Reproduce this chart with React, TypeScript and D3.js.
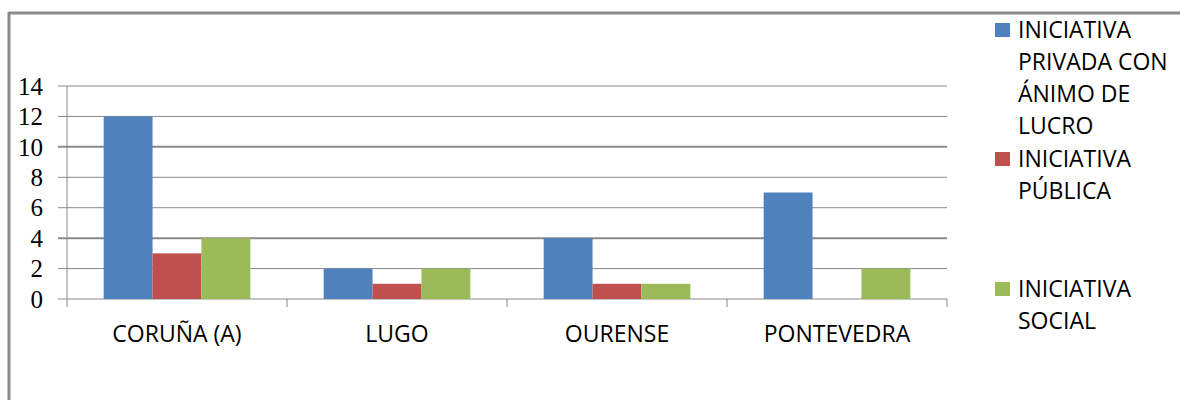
import React from "react";
import * as d3 from "d3";

const provincias = ["CORUÑA (A)", "LUGO", "OURENSE", "PONTEVEDRA"];
const privadaLucro = [12, 2, 4, 7];
const publica = [3, 1, 1, 0];
const social = [4, 2, 1, 2];
const yTicks = [0, 2, 4, 6, 8, 10, 12, 14];

const series = [
  { key: "privada", values: privadaLucro, color: "#4F81BD", legend: ["INICIATIVA", "PRIVADA CON", "ÁNIMO DE", "LUCRO"] },
  { key: "publica", values: publica, color: "#C0504D", legend: ["INICIATIVA", "PÚBLICA"] },
  { key: "social", values: social, color: "#9BBB59", legend: ["INICIATIVA", "SOCIAL"] },
];

const W = 1180;
const H = 400;
const plot = { left: 67, right: 947, top: 86, bottom: 299 };
const gridColor = "#8a8a8a";
const sans = "'Open Sans', 'DejaVu Sans', sans-serif";

const App = () => {
  const x = d3
    .scaleBand<string>()
    .domain(provincias)
    .range([plot.left, plot.right])
    .paddingInner(0)
    .paddingOuter(0);

  const inner = d3
    .scaleBand<string>()
    .domain(series.map((s) => s.key))
    .range([0, x.bandwidth()])
    .paddingInner(0)
    .paddingOuter(0.75);

  const y = d3.scaleLinear().domain([0, 14]).range([plot.bottom, plot.top]);

  // legend rows, one per line of text
  const legendTops = [38, 167, 297];
  const lineGap = 32;

  return (
    <svg
      width={W}
      height={H}
      viewBox={`0 0 ${W} ${H}`}
      style={{ position: "absolute", left: 0, top: 0, background: "#fff" }}
    >
      {/* outer frame */}
      <line x1={9} x2={W} y1={13} y2={13} stroke={gridColor} strokeWidth={3} />
      <line x1={9} x2={9} y1={12} y2={H} stroke={gridColor} strokeWidth={3} />

      {/* gridlines + y labels */}
      {yTicks.map((t) => (
        <g key={t}>
          <line
            x1={plot.left - 9}
            x2={plot.right}
            y1={y(t)}
            y2={y(t)}
            stroke={gridColor}
            strokeWidth={t === 4 || t === 10 ? 2 : 1}
          />
          <text
            x={43}
            y={y(t)}
            dy="0.35em"
            textAnchor="end"
            fontFamily="'Liberation Serif', serif"
            fontSize={25}
            fill="#000"
          >
            {t}
          </text>
        </g>
      ))}

      {/* y axis */}
      <line x1={plot.left} x2={plot.left} y1={plot.top} y2={plot.bottom + 8} stroke={gridColor} />

      {/* category ticks */}
      {provincias.map((p) => (
        <line
          key={p}
          x1={(x(p) ?? 0) + x.bandwidth()}
          x2={(x(p) ?? 0) + x.bandwidth()}
          y1={plot.bottom}
          y2={plot.bottom + 8}
          stroke={gridColor}
        />
      ))}

      {/* bars */}
      {series.map((s) =>
        s.values.map((v, i) => {
          const x0 = (x(provincias[i]) ?? 0) + (inner(s.key) ?? 0);
          return (
            <rect
              key={s.key + i}
              x={x0}
              y={y(v)}
              width={inner.bandwidth()}
              height={plot.bottom - y(v)}
              fill={s.color}
            />
          );
        })
      )}

      {/* category labels */}
      {provincias.map((p) => (
        <text
          key={p}
          x={(x(p) ?? 0) + x.bandwidth() / 2}
          y={342}
          textAnchor="middle"
          fontFamily={sans}
          fontSize={23}
          fill="#000"
        >
          {p}
        </text>
      ))}

      {/* legend */}
      {series.map((s, si) => (
        <g key={s.key}>
          <rect x={995} y={legendTops[si] - 15} width={15} height={14} fill={s.color} />
          {s.legend.map((line, li) => (
            <text
              key={li}
              x={1018}
              y={legendTops[si] + li * lineGap}
              fontFamily={sans}
              fontSize={23}
              fill="#000"
            >
              {line}
            </text>
          ))}
        </g>
      ))}
    </svg>
  );
};

export default App;
